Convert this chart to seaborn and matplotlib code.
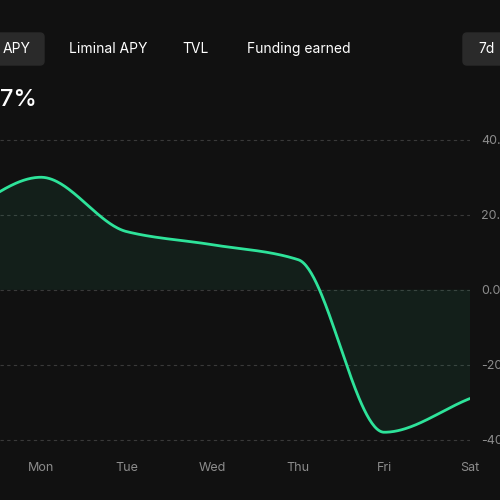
import numpy as np
import pandas as pd
import matplotlib.pyplot as plt
import seaborn as sns
from matplotlib.patches import FancyBboxPatch

# data (Sun hidden beyond the left edge)
days = ['Sun', 'Mon', 'Tue', 'Wed', 'Thu', 'Fri', 'Sat']
apy = [19.0, 30.0, 15.5, 12.0, 8.0, -38.0, -29.0]
y_ticks = [40, 20, 0, -20, -40]
tabs = ['APY', 'Liminal APY', 'TVL', 'Funding earned']

BG = '#111111'
GREEN = '#2ee39a'


def smooth(x, y, n=400):
    # monotone cubic (Fritsch-Carlson) for a smooth rendered line
    x = np.asarray(x, float)
    y = np.asarray(y, float)
    h = np.diff(x)
    d = np.diff(y) / h
    m = np.zeros_like(y)
    m[0], m[-1] = d[0], d[-1]
    for i in range(1, len(y) - 1):
        if d[i - 1] * d[i] > 0:
            m[i] = 2 / (1 / d[i - 1] + 1 / d[i])
    xs = np.linspace(x[0], x[-1], n)
    idx = np.clip(np.searchsorted(x, xs) - 1, 0, len(x) - 2)
    t = (xs - x[idx]) / h[idx]
    h00 = 2 * t**3 - 3 * t**2 + 1
    h10 = t**3 - 2 * t**2 + t
    h01 = -2 * t**3 + 3 * t**2
    h11 = t**3 - t**2
    ys = h00 * y[idx] + h10 * h[idx] * m[idx] + h01 * y[idx + 1] + h11 * h[idx] * m[idx + 1]
    return xs, ys


sns.set_theme(style='dark')
plt.rcParams['font.family'] = ['Inter', 'DejaVu Sans']

fig = plt.figure(figsize=(5, 5), dpi=100, facecolor=BG)
ax = fig.add_axes([0, 1 - 451 / 500, 470 / 500, (451 - 136) / 500])
ax.set_facecolor(BG)

xs, ys = smooth(range(len(days)), apy)
df = pd.DataFrame({'x': xs, 'y': ys})
ax.fill_between(xs, ys, 0, color=GREEN, alpha=0.07, linewidth=0)
sns.lineplot(data=df, x='x', y='y', ax=ax, color=GREEN, linewidth=2)

for v in y_ticks:
    ax.axhline(v, color='#3a3a3a', linestyle=(0, (3, 3)), linewidth=0.8, zorder=0)
ax.set_xticks(range(1, len(days)))
ax.set_xticklabels(days[1:])
ax.set_yticks(y_ticks)
ax.set_yticklabels([f'{v:.2f}' for v in y_ticks])
ax.set_xlim(1 - 41 / 86, 6)
ax.set_ylim(-43, 41)
ax.yaxis.tick_right()
ax.tick_params(colors='#8c8c8c', labelsize=9, length=0, pad=8)
ax.set_xlabel('')
ax.set_ylabel('')
ax.grid(False)
for s in ax.spines.values():
    s.set_visible(False)

# header tabs
fig.patches.append(FancyBboxPatch((-20 / 500, 1 - 65 / 500), 64 / 500, 32 / 500,
                                  boxstyle='round,pad=0,rounding_size=0.008',
                                  transform=fig.transFigure, color='#2a2a2a'))
fig.patches.append(FancyBboxPatch((463 / 500, 1 - 65 / 500), 60 / 500, 32 / 500,
                                  boxstyle='round,pad=0,rounding_size=0.008',
                                  transform=fig.transFigure, color='#2a2a2a'))
for label, px in zip(tabs, [3, 69, 182, 247]):
    fig.text(px / 500, 1 - 49 / 500, label, color='white', fontsize=10, va='center')
fig.text(478 / 500, 1 - 49 / 500, '7d', color='white', fontsize=10, va='center')
fig.text(0, 1 - 100 / 500, '7%', color='white', fontsize=17, va='center', fontweight='medium')

fig.savefig('out.png', dpi=100, facecolor=BG)
